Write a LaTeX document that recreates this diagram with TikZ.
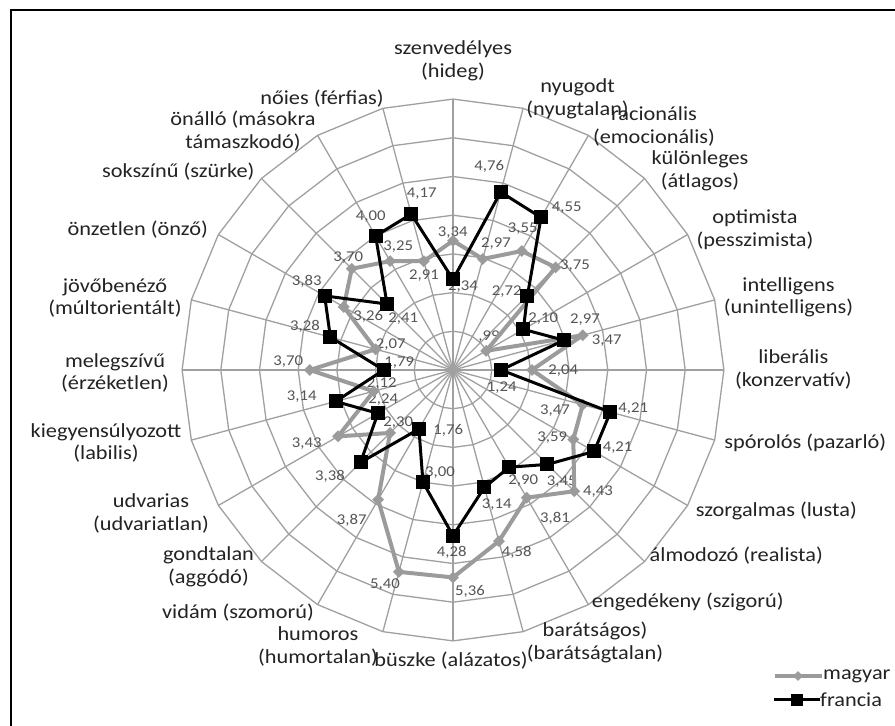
\documentclass[tikz,border=0pt]{standalone}
\usepackage{fontspec}
\setmainfont[FakeStretch=1.12]{Carlito}
\usetikzlibrary{shapes.geometric}
\definecolor{gridgray}{RGB}{160,160,160}
\definecolor{hugray}{RGB}{155,155,155}
\definecolor{valgray}{RGB}{85,85,85}
\definecolor{axisdark}{RGB}{35,35,35}

\begin{document}
\begin{tikzpicture}[x=1bp,y=1bp,
  ring/.style={draw=gridgray,line width=1.3bp},
  axlabel/.style={font=\fontsize{20}{23}\selectfont,text=axisdark,align=center,inner sep=0pt},
  vlabel/.style={font=\fontsize{15}{17}\selectfont,text=valgray,inner sep=0pt},
  hupt/.style={diamond,fill=hugray,minimum size=12bp,inner sep=0pt},
  frpt/.style={rectangle,fill=black,minimum size=14bp,inner sep=0pt},
  huline/.style={draw=hugray,line width=4bp,line join=round},
  frline/.style={draw=black,line width=3bp,line join=round},
  legtext/.style={font=\fontsize{20}{23}\selectfont,text=axisdark,anchor=west,inner sep=0pt}
]
\useasboundingbox (0,0) rectangle (895,726);
\fill[white] (0,0) rectangle (895,726);
\draw[line width=2bp] (11,0) -- (11,716.3) -- (895,716.3);

% grid: 7 rings, 24 spokes
\begin{scope}[shift={(453,356)}]
  \foreach \k in {1,...,7}
    \draw[ring] (90:\k*38.7) \foreach \a in {75,60,...,-255} { -- (\a:\k*38.7) } -- cycle;
  \foreach \a in {0,15,...,345}
    \draw[ring] (0,0) -- (\a:271);
  % data points
  \foreach \v [count=\i from 0] in {3.34,2.97,3.55,3.75,0.99,3.47,2.04,3.47,3.59,4.43,3.81,4.58,
      5.36,5.40,3.87,2.30,3.43,2.12,3.70,2.07,3.26,3.70,3.25,2.91}
    \coordinate (hu\i) at ({90-15*\i}:{\v*38.7});
  \foreach \v [count=\i from 0] in {2.34,4.76,4.55,2.72,2.10,2.97,1.24,4.21,4.21,3.45,2.90,3.14,
      4.28,3.00,1.76,3.38,2.24,3.14,1.79,3.28,3.83,2.41,4.00,4.17}
    \coordinate (fr\i) at ({90-15*\i}:{\v*38.7});
\end{scope}

% axis labels
\foreach \x/\y/\t [count=\i from 0] in {
    453/665/{szenvedélyes\\(hideg)}, 577.6/627/{nyugodt\\(nyugtalan)},
    654/599.3/{racionális\\(emocionális)}, 700/555/{különleges\\(átlagos)},
    755/496.3/{optimista\\(pesszimista)}, 788.5/428.7/{intelligens\\(unintelligens)},
    793.3/356.7/{liberális\\(konzervatív)}, 805.3/282.7/{spórolós (pazarló)},
    776.3/215.4/{szorgalmas (lusta)}, 736.3/170.4/{álmodozó (realista)},
    687.8/124.1/{engedékeny (szigorú)}, 595/83.2/{barátságos)\\(barátságtalan)},
    451/65/{büszke (alázatos)}, 318/79.7/{humoros\\(humortalan)},
    238/113.3/{vidám (szomorú)}, 208.5/159.3/{gondtalan\\(aggódó)},
    151/212.6/{udvarias\\(udvariatlan)}, 106/283/{kiegyensúlyozott\\(labilis)},
    115/353/{melegszívű\\(érzéketlen)}, 115/428/{jövőbenéző\\(múltorientált)},
    137.7/496/{önzetlen (önző)}, 178.3/554.3/{sokszínű (szürke)},
    243/595.2/{önálló (másokra\\támaszkodó)}, 322/627.4/{nőies (férfias)}}
  \node[axlabel] (ax\i) at (\x,\y) {\t};

% value labels
\foreach \x/\y/\t [count=\i from 0] in {
    452.7/493.3/{3,34}, 496/482/{2,97}, 522.7/497.7/{3,55}, 575/460.3/{3,75},
    489/389.3/{,99}, 606.7/385.3/{3,47}, 563.3/355.3/{2,04}, 555/315/{3,47},
    552.3/288.7/{3,59}, 598/234.3/{4,43}, 555/207.7/{3,81}, 516.7/173.3/{4,58},
    470/134.3/{5,36}, 385/141.7/{5,40}, 351.7/206/{3,87}, 398.3/303.3/{2,30},
    306.7/282.7/{3,43}, 381.7/342.7/{2,12}, 288.3/364.3/{3,70}, 390.7/381/{2,07},
    368.3/409.3/{3,26}, 348.3/468.3/{3,70}, 398.3/479.3/{3,25}, 424/450/{2,91}}
  \node[vlabel] (huv\i) at (\x,\y) {\t};
\foreach \x/\y/\t [count=\i from 0] in {
    463/439/{2,34}, 489.3/559.3/{4,76}, 566.7/518.7/{4,55}, 506.7/434.3/{2,72},
    543.3/407.7/{2,10}, 585/406/{2,97}, 501.7/338.7/{1,24}, 633.3/317.7/{4,21},
    617.6/278/{4,21}, 561.7/244.3/{3,45}, 523.3/245.3/{2,90}, 496.7/221/{3,14},
    451.7/173.3/{4,28}, 440/253.3/{3,00}, 448.3/296/{1,76}, 330/249.3/{3,38},
    383.3/326/{2,24}, 301.7/329.3/{3,14}, 399.3/363.3/{1,79}, 305/399.3/{3,28},
    306.7/444.3/{3,83}, 403.3/407.7/{2,41}, 370.7/509.3/{4,00}, 421.7/532/{4,17}}
  \node[vlabel] (frv\i) at (\x,\y) {\t};

% magyar
\draw[huline] (hu0) \foreach \i in {1,...,23} { -- (hu\i) } -- cycle;
\foreach \i in {0,...,23} \node[hupt] (hum\i) at (hu\i) {};
% francia
\draw[frline] (fr0) \foreach \i in {1,...,23} { -- (fr\i) } -- cycle;
\foreach \i in {0,...,23} \node[frpt] (frm\i) at (fr\i) {};

% legend
\coordinate (lghua) at (775,50);
\coordinate (lghub) at (822,50);
\draw[hugray,line width=3.3bp] (lghua) -- (lghub);
\node[hupt,minimum size=10bp] (lghu) at (798,50) {};
\node[legtext] (lghut) at (823,50) {magyar};
\coordinate (lgfra) at (774,26);
\coordinate (lgfrb) at (820,26);
\draw[black,line width=3bp] (lgfra) -- (lgfrb);
\node[frpt,minimum size=12bp] (lgfr) at (797,26) {};
\node[legtext] (lgfrt) at (820,26) {francia};
\end{tikzpicture}
\end{document}
